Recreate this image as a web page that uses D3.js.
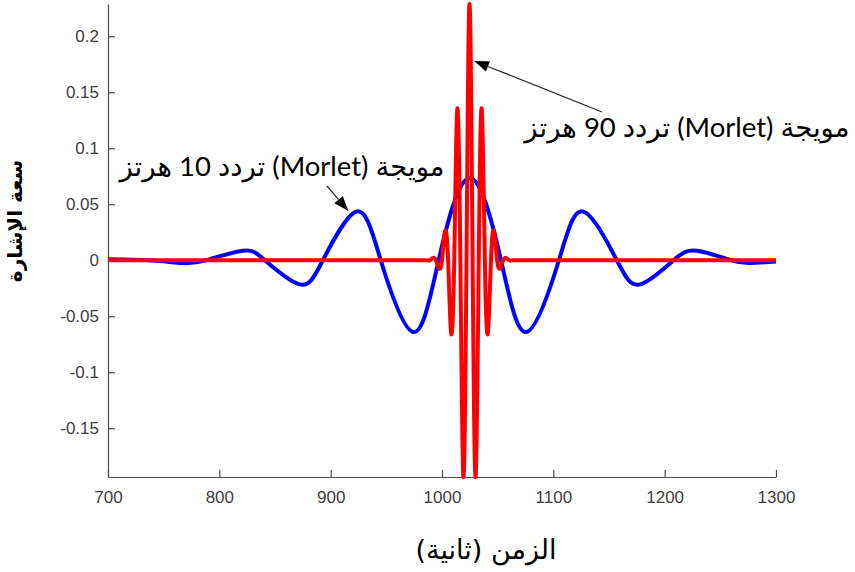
<!DOCTYPE html>
<html>
<head>
<meta charset="utf-8">
<script src="https://cdn.jsdelivr.net/npm/d3@7"></script>
<style>
  html, body { margin: 0; padding: 0; background: #fff; }
  svg { display: block; }
</style>
</head>
<body>
<svg id="chart" width="855" height="572"></svg>
<script>
// Morlet wavelet at 10 Hz (blue): extrema and zero crossings
const blueTime = [700, 737, 767, 788, 821, 841, 872, 893, 923, 945, 974, 997, 1025,
                  1053, 1076, 1105, 1127, 1157, 1178, 1208, 1229, 1260, 1277, 1300];
const blueAmp  = [0.001, 0, -0.0025, 0, 0.0085, 0, -0.0215, 0, 0.0435, 0, -0.064, 0, 0.0735,
                  0, -0.064, 0, 0.0435, 0, -0.0215, 0, 0.0085, 0, -0.0025, -0.0012];

// Morlet wavelet at 90 Hz (red): flat tails, then extrema and zero crossings
const redTime = [700, 800, 900, 950, 970, 980, 985, 989,
                 991.7, 994.5, 997.2, 1000, 1002.7, 1005.5, 1008.2, 1011, 1013.7, 1016.5,
                 1019.2, 1022, 1024.7, 1027.5, 1030.2, 1033, 1035.7, 1038.5, 1041.2, 1044,
                 1046.7, 1049.5, 1052.2, 1055, 1057.7,
                 1060.5, 1065, 1070, 1080, 1100, 1150, 1200, 1250, 1300];
const redAmp  = [0, 0, 0, 0, 0, 0, 0, 0,
                 0.002, 0, -0.007, 0, 0.026, 0, -0.065, 0, 0.135, 0,
                 -0.1935, 0, 0.2288, 0, -0.1935, 0, 0.135, 0, -0.065, 0,
                 0.026, 0, -0.007, 0, 0.002,
                 0, 0, 0, 0, 0, 0, 0, 0, 0];

const xTicks = [700, 800, 900, 1000, 1100, 1200, 1300];
const yTicks = [-0.15, -0.1, -0.05, 0, 0.05, 0.1, 0.15, 0.2];

const xLabel = "الزمن (ثانية)";
const yLabel = "سعة الإشارة";
const note90 = "مويجة (Morlet) تردد 90 هرتز";
const note10 = "مويجة (Morlet) تردد 10 هرتز";

// annotation anchors in data units: [text x, text y, arrow tail x, tail y, tip x, tip y]
const annot90 = [1220, 0.110, 1143.7, 0.1324, 1028.8, 0.178];
const annot10 = [856.3, 0.0755, 896.7, 0.0663, 915.9, 0.044];

const svg = d3.select("#chart");
const margin = { left: 108, right: 79, top: 4, bottom: 95 };
const W = 855, H = 572;

const x = d3.scaleLinear().domain([700, 1300]).range([margin.left, W - margin.right]);
const y = d3.scaleLinear().domain([-0.1935, 0.2288]).range([H - margin.bottom, margin.top]);

const axisColor = "#4d4d4d";
const tickFont = "'Liberation Sans', Arial, Helvetica, sans-serif";

// axes
const gx = svg.append("g")
  .attr("transform", `translate(0,${H - margin.bottom})`)
  .call(d3.axisBottom(x).tickValues(xTicks).tickFormat(d3.format("d"))
        .tickSizeInner(-7).tickSizeOuter(0).tickPadding(14));
const gy = svg.append("g")
  .attr("transform", `translate(${margin.left},0)`)
  .call(d3.axisLeft(y).tickValues(yTicks).tickFormat(d => d === 0 ? "0" : String(d))
        .tickSizeInner(-7).tickSizeOuter(0).tickPadding(9));

[gx, gy].forEach(g => {
  g.select(".domain").attr("stroke", axisColor).attr("stroke-width", 1.2);
  g.selectAll(".tick line").attr("stroke", axisColor).attr("stroke-width", 1.2);
  g.selectAll(".tick text").attr("fill", "#404040")
    .style("font-family", tickFont).style("font-size", "17px");
});

// curves
const line = (curve) => d3.line().x(d => x(d[0])).y(d => y(d[1])).curve(curve);

svg.append("path")
  .datum(blueTime.map((t, i) => [t, blueAmp[i]]))
  .attr("d", line(d3.curveNatural))
  .attr("fill", "none").attr("stroke", "#0000ff").attr("stroke-width", 4)
  .attr("stroke-linejoin", "round");

svg.append("path")
  .datum(redTime.map((t, i) => [t, redAmp[i]]))
  .attr("d", line(d3.curveNatural))
  .attr("fill", "none").attr("stroke", "#ff0000").attr("stroke-width", 4)
  .attr("stroke-linejoin", "round");

// arrows
function arrow(a) {
  const x0 = x(a[2]), y0 = y(a[3]), x1 = x(a[4]), y1 = y(a[5]);
  const ang = Math.atan2(y1 - y0, x1 - x0);
  const L = 15, Wd = 5.5;
  const bx = x1 - L * Math.cos(ang), by = y1 - L * Math.sin(ang);
  svg.append("line")
    .attr("x1", x0).attr("y1", y0).attr("x2", bx).attr("y2", by)
    .attr("stroke", "#262626").attr("stroke-width", 1.2);
  const px = -Math.sin(ang) * Wd, py = Math.cos(ang) * Wd;
  svg.append("path")
    .attr("d", `M${x1},${y1}L${bx + px},${by + py}L${bx - px},${by - py}Z`)
    .attr("fill", "#000");
}
arrow(annot90);
arrow(annot10);

const annFont = "Lato, 'DejaVu Sans', sans-serif";
function note(a, txt) {
  svg.append("text")
    .attr("x", x(a[0])).attr("y", y(a[1]))
    .attr("direction", "rtl").attr("text-anchor", "middle")
    .style("font-family", annFont).style("font-size", "27.5px").attr("fill", "#000")
    .text(txt);
}
note(annot90, note90);
note(annot10, note10);

// axis titles
svg.append("text")
  .attr("x", 486).attr("y", 559)
  .attr("direction", "rtl").attr("text-anchor", "middle")
  .style("font-family", "'DejaVu Sans', sans-serif").style("font-size", "27px")
  .attr("fill", "#000").text(xLabel);

svg.append("text")
  .attr("transform", "translate(22,221) rotate(-90)")
  .attr("direction", "rtl").attr("text-anchor", "middle")
  .style("font-family", "'DejaVu Sans', sans-serif").style("font-size", "20px")
  .style("font-weight", "bold")
  .attr("fill", "#000").text(yLabel);
</script>
</body>
</html>
